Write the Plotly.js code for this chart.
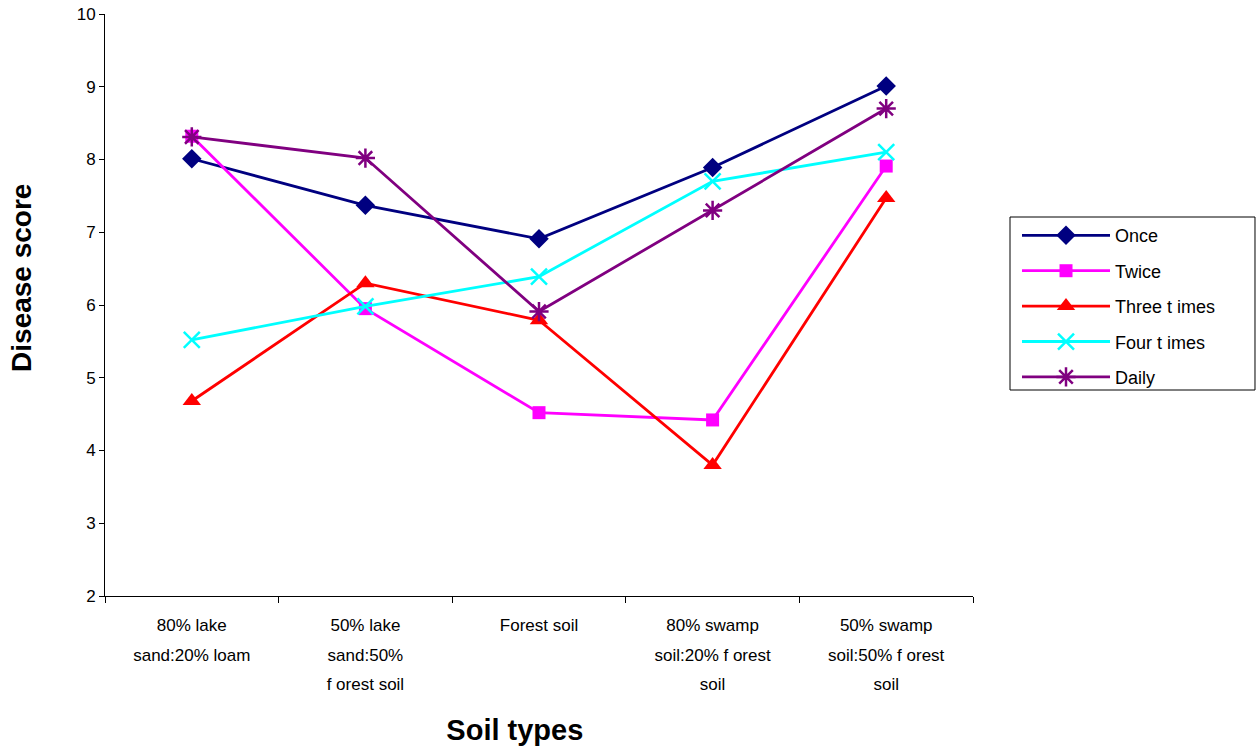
<!DOCTYPE html>
<html>
<head>
<meta charset="utf-8">
<script src="https://cdn.plot.ly/plotly-3.0.1.min.js"></script>
<style>body{margin:0;padding:0;background:#fff}#chart{width:1257px;height:750px}</style>
</head>
<body>
<div id="chart"></div>
<script>
const categories = [
  "80% lake<br>sand:20% loam",
  "50% lake<br>sand:50%<br>f orest soil",
  "Forest soil",
  "80% swamp<br>soil:20% f orest<br>soil",
  "50% swamp<br>soil:50% f orest<br>soil"
];
const seriesNames = ["Once", "Twice", "Three t imes", "Four t imes", "Daily"];
const once = [8.01, 7.37, 6.91, 7.89, 9.01];
const twice = [8.32, 5.95, 4.52, 4.42, 7.91];
const threeTimes = [4.68, 6.30, 5.79, 3.80, 7.47];
const fourTimes = [5.52, 5.98, 6.39, 7.70, 8.10];
const daily = [8.31, 8.02, 5.91, 7.30, 8.70];
const yTicks = [2, 3, 4, 5, 6, 7, 8, 9, 10];

const values = [once, twice, threeTimes, fourTimes, daily];
const colors = ["#000080", "#FF00FF", "#FF0000", "#00FFFF", "#800080"];
const symbols = ["diamond", "square", "triangle-up", "x-thin-open", "asterisk-open"];
const sizes = [15, 13, 16, 16, 16];

// wrap each tick label line in a smaller span so line spacing follows the larger tickfont
const tickText = categories.map(c => c.split("<br>").map(s => "<span style='font-size:17px'>" + s + "</span>").join("<br>"));

const traces = seriesNames.map((name, i) => ({
  type: "scatter",
  mode: "lines+markers",
  name: name,
  legendgroup: "g" + i,
  x: categories,
  y: values[i],
  line: {color: colors[i], width: 2.8},
  marker: {symbol: symbols[i], size: sizes[i], color: colors[i], line: {color: colors[i], width: (i >= 3 ? 2.5 : 0)}}
}));

const nb = n => "&nbsp;".repeat(n);

const layout = {
  width: 1257, height: 750,
  margin: {l: 105, r: 284, t: 14, b: 154},
  paper_bgcolor: "#fff", plot_bgcolor: "#fff",
  font: {family: "Liberation Sans, Arial, sans-serif", color: "#000", size: 17},
  showlegend: true,
  legend: {
    x: 1.0507, xanchor: "left", y: 0.651, yanchor: "top",
    borderwidth: 0, bgcolor: "rgba(0,0,0,0)",
    font: {size: 18, color: "#000"},
    traceorder: "grouped", tracegroupgap: 9,
    itemwidth: 88
  },
  shapes: [{
    type: "rect", xref: "paper", yref: "paper",
    x0: 1.04263, x1: 1.32488, y0: 0.35395, y1: 0.65120,
    line: {color: "#000", width: 1}, fillcolor: "rgba(0,0,0,0)", layer: "below"
  }],
  xaxis: {
    type: "category",
    range: [-0.5, 4.5],
    tickmode: "array", tickvals: categories, ticktext: tickText,
    showline: true, linecolor: "#000", linewidth: 1,
    ticks: "outside", tickson: "boundaries", ticklen: 6, tickcolor: "#000", tickwidth: 1,
    showgrid: false, zeroline: false,
    tickfont: {size: 23},
    ticklabelstandoff: 6,
    title: {text: "<b>Soil types</b>" + nb(6), font: {size: 29}, standoff: 26}
  },
  yaxis: {
    range: [2, 10],
    tickvals: yTicks,
    showline: true, linecolor: "#000", linewidth: 1,
    ticks: "outside", ticklen: 5, tickcolor: "#000", tickwidth: 1,
    showgrid: false, zeroline: false,
    tickfont: {size: 17},
    title: {text: nb(7) + "<b>Disease score</b>", font: {size: 28}, standoff: 36}
  }
};

Plotly.newPlot("chart", traces, layout, {displayModeBar: false, staticPlot: true});
</script>
</body>
</html>
